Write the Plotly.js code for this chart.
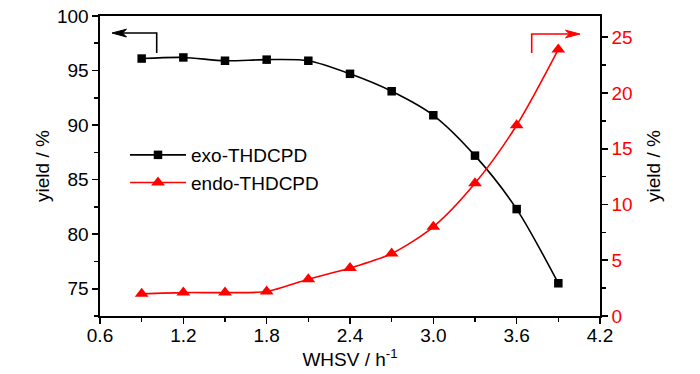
<!DOCTYPE html>
<html><head><meta charset="utf-8">
<script src="https://cdn.plot.ly/plotly-3.0.1.min.js"></script>
<style>html,body{margin:0;padding:0;background:#fff}#chart{width:700px;height:374px}</style>
</head><body><div id="chart"></div>
<script>
const whsv = [0.9, 1.2, 1.5, 1.8, 2.1, 2.4, 2.7, 3.0, 3.3, 3.6, 3.9];
const exoYield = [96.1, 96.2, 95.9, 96.0, 95.9, 94.7, 93.1, 90.9, 87.2, 82.3, 75.5];
const endoYield = [2.0, 2.1, 2.1, 2.2, 3.3, 4.3, 5.6, 8.0, 11.9, 17.1, 23.9];
const leftTicks = [75, 80, 85, 90, 95, 100];
const rightTicks = [0, 5, 10, 15, 20, 25];
const xTicks = [0.6, 1.2, 1.8, 2.4, 3.0, 3.6, 4.2];
const xTickText = ['0.6', '1.2', '1.8', '2.4', '3.0', '3.6', '4.2'];

const FONT = '"Liberation Sans", Arial, sans-serif';
const FS = 19;
const traces = [
  {x: whsv, y: exoYield, name: 'exo-THDCPD', type: 'scatter', mode: 'lines+markers',
   line: {color: '#000', width: 1.6, shape: 'spline', smoothing: 0.8},
   marker: {symbol: 'square', size: 8.5, color: '#000'}, yaxis: 'y'},
  {x: whsv, y: endoYield, name: 'endo-THDCPD', type: 'scatter', mode: 'lines+markers',
   line: {color: '#ff0000', width: 1.6, shape: 'spline', smoothing: 0.8},
   marker: {symbol: 'triangle-up', size: 12, color: '#ff0000'}, yaxis: 'y2'}
];
const axBase = {showgrid: false, zeroline: false, showline: true, linecolor: '#000', linewidth: 1.6,
  ticks: 'outside', ticklen: 6, tickwidth: 1.6, tickcolor: '#000'};
const layout = {
  width: 700, height: 374, margin: {l: 100, r: 100, t: 16, b: 58},
  paper_bgcolor: '#fff', plot_bgcolor: '#fff',
  font: {family: FONT, size: FS, color: '#000'},
  showlegend: true,
  legend: {x: 0.05, y: 0.6, xanchor: 'left', yanchor: 'top', bgcolor: 'rgba(0,0,0,0)',
    font: {family: FONT, size: FS}, itemwidth: 56, tracegroupgap: 0},
  xaxis: Object.assign({}, axBase, {range: [0.6, 4.2], tickvals: xTicks, ticktext: xTickText,
    ticklabelstandoff: -4,
    minor: {dtick: 0.3, tick0: 0.6, ticks: 'outside', ticklen: 4, tickwidth: 1.6, tickcolor: '#000', showgrid: false},
    mirror: true, title: {text: 'WHSV / h<sup>-1</sup>', font: {family: FONT, size: FS}, standoff: 0}}),
  yaxis: Object.assign({}, axBase, {range: [72.5, 100], tickvals: leftTicks,
    minor: {dtick: 2.5, tick0: 75, ticks: 'outside', ticklen: 4, tickwidth: 1.6, tickcolor: '#000', showgrid: false},
    title: {text: 'yield / %', font: {family: FONT, size: FS}, standoff: 2}}),
  yaxis2: Object.assign({}, axBase, {overlaying: 'y', side: 'right', range: [0, 26.9], tickvals: rightTicks,
    tickfont: {color: '#ff0000', family: FONT, size: FS},
    minor: {dtick: 2.5, tick0: 0, ticks: 'outside', ticklen: 4, tickwidth: 1.6, tickcolor: '#000', showgrid: false},
    title: {text: 'yield / %', font: {family: FONT, size: FS, color: '#000'}, standoff: 15}}),
  shapes: [
    {type: 'path', xref: 'paper', yref: 'paper',
     path: 'M 0.1134 0.8767 L 0.1134 0.9433 L 0.045 0.9433',
     line: {color: '#000', width: 1.6}},
    {type: 'path', xref: 'paper', yref: 'paper',
     path: 'M 0.024 0.9433 L 0.053 0.956 L 0.045 0.9433 L 0.053 0.930 Z',
     fillcolor: '#000', line: {color: '#000', width: 1}},
    {type: 'path', xref: 'paper', yref: 'paper',
     path: 'M 0.8634 0.8767 L 0.8634 0.94 L 0.94 0.94',
     line: {color: '#ff0000', width: 1.6}},
    {type: 'path', xref: 'paper', yref: 'paper',
     path: 'M 0.96 0.94 L 0.931 0.9527 L 0.939 0.94 L 0.931 0.9273 Z',
     fillcolor: '#ff0000', line: {color: '#ff0000', width: 1}}
  ]
};
Plotly.newPlot('chart', traces, layout, {displayModeBar: false, staticPlot: true});
</script></body></html>
